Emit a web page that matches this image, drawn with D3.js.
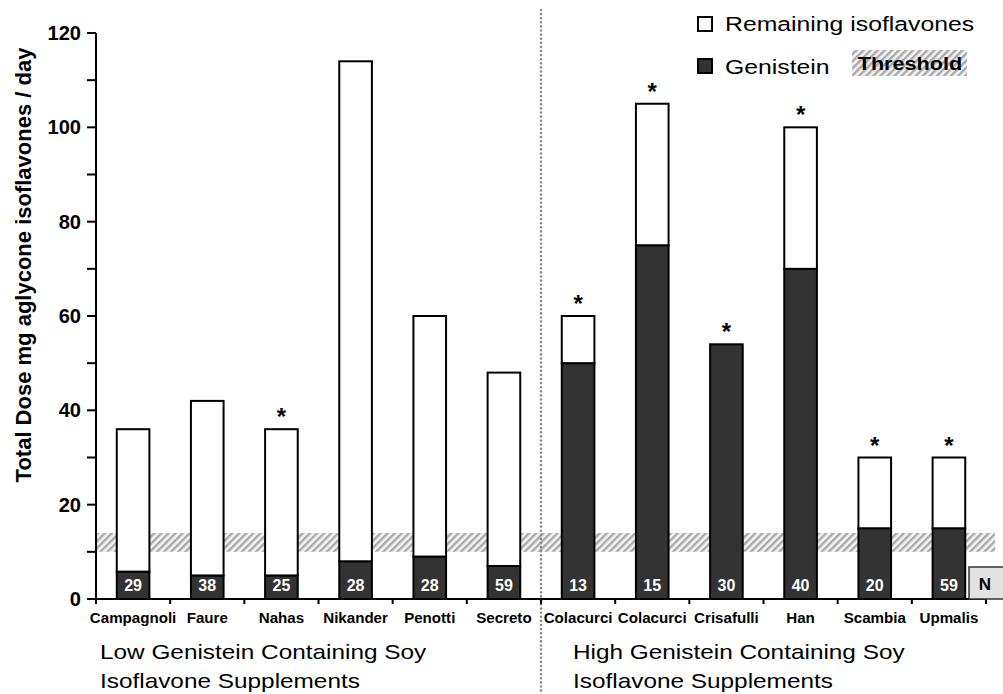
<!DOCTYPE html>
<html><head><meta charset="utf-8">
<script src="https://cdn.jsdelivr.net/npm/d3@7"></script>
<style>
html,body{margin:0;padding:0;background:#fff;}
svg{display:block;font-family:"Liberation Sans",Arial,Helvetica,sans-serif;}
</style></head>
<body><svg id="chart" width="1003" height="694"></svg>
<script>
// ---- data ----
const studies = ["Campagnoli","Faure","Nahas","Nikander","Penotti","Secreto","Colacurci","Colacurci","Crisafulli","Han","Scambia","Upmalis"];
const totalDose = [36,42,36,114,60,48,60,105,54,100,30,30];
const genistein = [5.8,5,5,8,9,7,50,75,54,70,15,15];
const nSubjects = [29,38,25,28,28,59,13,15,30,40,20,59];
const significant = [false,false,true,false,false,false,true,true,true,true,true,true];
const thresholdRange = [10,14];
const yTickValues = [0,20,40,60,80,100,120];
const yMinorTicks = [10,30,50,70,90,110];
const groupLabels = [["Low Genistein Containing Soy","Isoflavone Supplements"],["High Genistein Containing Soy","Isoflavone Supplements"]];
const legendLabels = ["Remaining isoflavones","Genistein","Threshold"];

(function(){
const rows = studies.map((s,i)=>({i, study:s, genistein:genistein[i], remaining:totalDose[i]-genistein[i], n:nSubjects[i], sig:significant[i], total:totalDose[i]}));

const svg = d3.select("#chart");
const pl=96, pr=986, pt=33, pb=599;
const x = d3.scaleBand().domain(rows.map(d=>d.i)).range([pl,pr]).paddingInner(0.56).paddingOuter(0.28);
const y = d3.scaleLinear().domain([0,120]).range([pb,pt]);
const step = x.step();

// hatch pattern
const defs = svg.append("defs");
const pat = defs.append("pattern").attr("id","hatch").attr("patternUnits","userSpaceOnUse")
  .attr("width",5).attr("height",5).attr("patternTransform","rotate(45)");
pat.append("rect").attr("width",5).attr("height",5).attr("fill","#f4f4f4");
pat.append("rect").attr("x",0).attr("width",2.4).attr("height",5).attr("fill","#a9a9a9");

// threshold band
svg.append("rect").attr("x",pl).attr("y",y(thresholdRange[1]))
  .attr("width",995-pl).attr("height",y(thresholdRange[0])-y(thresholdRange[1]))
  .attr("fill","url(#hatch)");

// dotted separator
svg.append("line").attr("x1",pl+6*step).attr("x2",pl+6*step).attr("y1",10).attr("y2",694)
  .attr("stroke","#8a8a8a").attr("stroke-width",2.6).attr("stroke-linecap","round").attr("stroke-dasharray","0 4.1");

// stacked bars
const stack = d3.stack().keys(["genistein","remaining"]);
const series = stack(rows);
const fills = {genistein:"#333333", remaining:"#ffffff"};
series.forEach(s=>{
  svg.append("g").selectAll("rect").data(s.filter(d=>d[1]-d[0]>0)).join("rect")
    .attr("x",d=>x(d.data.i)).attr("width",x.bandwidth())
    .attr("y",d=>y(d[1])).attr("height",d=>y(d[0])-y(d[1]))
    .attr("fill",fills[s.key]).attr("stroke","#000").attr("stroke-width",2);
});

// N labels
svg.append("g").selectAll("text").data(rows).join("text")
  .attr("x",d=>x(d.i)+x.bandwidth()/2).attr("y",591)
  .attr("text-anchor","middle").attr("font-weight","bold").attr("font-size",16).attr("fill","#fff")
  .text(d=>d.n);

// asterisks
svg.append("g").selectAll("text").data(rows.filter(d=>d.sig)).join("text")
  .attr("x",d=>x(d.i)+x.bandwidth()/2).attr("y",d=>y(d.total)-4)
  .attr("text-anchor","middle").attr("font-weight","bold").attr("font-size",24)
  .text("*");

// y axis
const yAxis = svg.append("g");
yAxis.append("line").attr("x1",pl).attr("x2",pl).attr("y1",y(120)).attr("y2",pb).attr("stroke","#000").attr("stroke-width",2);
yAxis.selectAll("line.tk").data(yTickValues.concat(yMinorTicks)).join("line").attr("class","tk")
  .attr("x1",pl-9).attr("x2",pl).attr("y1",d=>y(d)).attr("y2",d=>y(d)).attr("stroke","#000").attr("stroke-width",2);
yAxis.selectAll("text").data(yTickValues).join("text")
  .attr("x",81).attr("y",d=>y(d)).attr("dy","0.36em").attr("text-anchor","end")
  .attr("font-weight","bold").attr("font-size",19.5)
  .attr("transform","translate(81,0) scale(1.03,1) translate(-81,0)")
  .text(d=>d);
svg.append("text").attr("transform","translate(31,265) rotate(-90)").attr("text-anchor","middle")
  .attr("font-weight","bold").attr("font-size",22).text("Total Dose mg aglycone isoflavones / day");

// x axis
const xAxis = svg.append("g");
xAxis.append("line").attr("x1",pl-1).attr("x2",pr+1).attr("y1",pb).attr("y2",pb).attr("stroke","#000").attr("stroke-width",2);
xAxis.selectAll("line.tk").data(d3.range(13)).join("line").attr("class","tk")
  .attr("x1",d=>pl+d*step).attr("x2",d=>pl+d*step).attr("y1",pb).attr("y2",pb+5)
  .attr("stroke","#000").attr("stroke-width",2);
xAxis.selectAll("text").data(rows).join("text")
  .attr("x",d=>x(d.i)+x.bandwidth()/2).attr("y",623).attr("text-anchor","middle")
  .attr("font-weight","bold").attr("font-size",14)
  .attr("transform",d=>{const cx=x(d.i)+x.bandwidth()/2; return `translate(${cx},0) scale(1.08,1) translate(${-cx},0)`;})
  .text(d=>d.study);

// N box
svg.append("rect").attr("x",969).attr("y",567).attr("width",36).attr("height",32)
  .attr("fill","#e2e2e2").attr("stroke","#333").attr("stroke-width",1.5);
svg.append("text").attr("x",985).attr("y",590).attr("text-anchor","middle").attr("font-weight","bold").attr("font-size",17).text("N");

// group labels
const gx = [100,573];
groupLabels.forEach((lines,gi)=>{
  lines.forEach((t,li)=>{
    svg.append("text").attr("x",gx[gi]).attr("y",659+li*29).attr("font-size",21)
      .attr("transform",`translate(${gx[gi]},0) scale(1.16,1) translate(${-gx[gi]},0)`)
      .text(t);
  });
});

// legend
const lg = svg.append("g");
lg.append("rect").attr("x",698).attr("y",17).attr("width",14).attr("height",14).attr("fill","#fff").attr("stroke","#000").attr("stroke-width",2);
lg.append("rect").attr("x",698).attr("y",59).attr("width",14).attr("height",14).attr("fill","#333").attr("stroke","#000").attr("stroke-width",2);
lg.append("text").attr("x",725).attr("y",31).attr("font-size",21)
  .attr("transform","translate(725,0) scale(1.18,1) translate(-725,0)").text(legendLabels[0]);
lg.append("text").attr("x",725).attr("y",74).attr("font-size",21)
  .attr("transform","translate(725,0) scale(1.18,1) translate(-725,0)").text(legendLabels[1]);
lg.append("rect").attr("x",852).attr("y",50).attr("width",115).attr("height",26).attr("fill","url(#hatch)");
lg.append("text").attr("x",910).attr("y",70).attr("text-anchor","middle").attr("font-weight","bold").attr("font-size",19)
  .attr("transform","translate(910,0) scale(1.14,1) translate(-910,0)").text(legendLabels[2]);
})();
</script></body></html>
